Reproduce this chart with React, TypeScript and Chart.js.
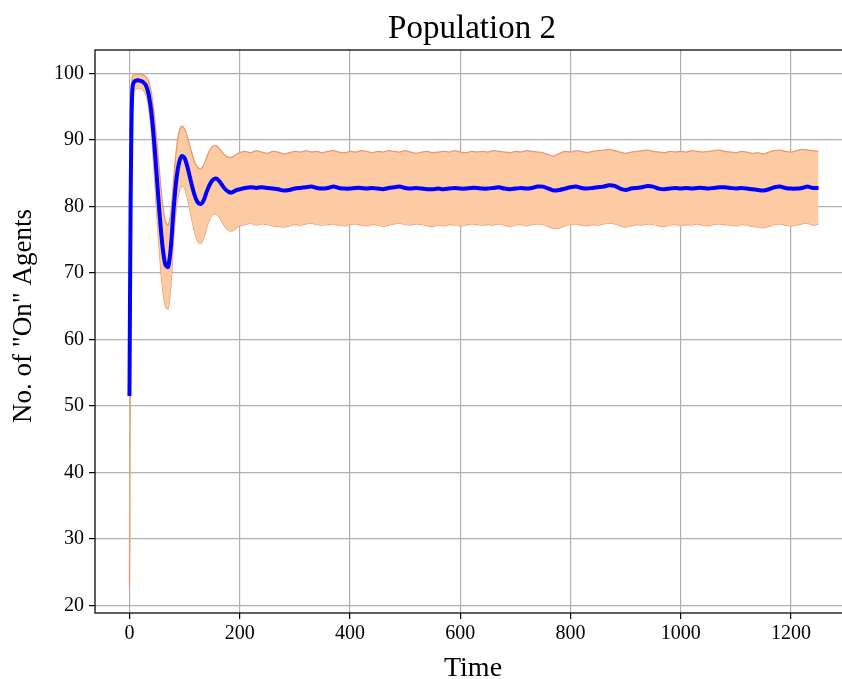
import React, { useEffect, useRef } from "react";
import { Chart, registerables } from "chart.js";

Chart.register(...registerables);

const times = [
  0, 1, 2, 3, 4, 5, 6, 8, 10, 15, 20, 25, 30, 35, 40, 45, 50, 55, 60, 65, 70, 75, 80, 85, 90, 95, 100,
  105, 110, 115, 120, 125, 130, 135, 140, 145, 150, 155, 160, 165, 170, 175, 180, 185, 190, 195, 200,
  210, 220, 230, 240, 250, 260, 270, 280, 290, 300, 310, 320, 330, 340, 350, 360, 370, 380, 390, 400,
  410, 420, 430, 440, 450, 460, 470, 480, 490, 500, 510, 520, 530, 540, 550, 560, 570, 580, 590, 600,
  610, 620, 630, 640, 650, 660, 670, 680, 690, 700, 710, 720, 730, 740, 750, 760, 770, 780, 790, 800,
  810, 820, 830, 840, 850, 860, 870, 880, 890, 900, 910, 920, 930, 940, 950, 960, 970, 980, 990, 1000,
  1010, 1020, 1030, 1040, 1050, 1060, 1070, 1080, 1090, 1100, 1110, 1120, 1130, 1140, 1150, 1160, 1170,
  1180, 1190, 1200, 1210, 1220, 1230, 1240, 1250,
];

const meanOn = [
  51.5, 66, 79, 88, 94, 97, 98.2, 98.7, 98.9, 99.0, 98.9, 98.7, 98.2, 96.8, 94.0, 89.5, 84.0, 78.5, 74.0,
  71.3, 70.9, 73.8, 79.5, 84.0, 86.6, 87.6, 87.3, 86.0, 84.3, 82.6, 81.3, 80.5, 80.4, 81.0, 82.2, 83.2,
  83.9, 84.2, 84.1, 83.6, 83.0, 82.5, 82.2, 82.1, 82.3, 82.5, 82.6,
  82.8, 82.9, 82.8, 82.9, 82.8, 82.7, 82.6, 82.4, 82.5, 82.7, 82.8, 82.9, 83.0, 82.8, 82.7, 82.8, 83.0,
  82.8, 82.7, 82.7, 82.8, 82.8, 82.7, 82.8, 82.7, 82.6, 82.8, 82.9, 83.0, 82.8, 82.7, 82.8, 82.7, 82.6,
  82.6, 82.7, 82.6, 82.7, 82.8, 82.7, 82.7, 82.8, 82.8, 82.7, 82.7, 82.8, 82.9, 82.7, 82.6, 82.7, 82.8,
  82.7, 82.8, 83.0, 83.0, 82.7, 82.4, 82.5, 82.7, 82.9, 83.0, 82.8, 82.7, 82.8, 82.9, 83.0, 83.2, 83.1,
  82.7, 82.5, 82.7, 82.8, 82.9, 83.1, 83.0, 82.7, 82.6, 82.7, 82.8, 82.7, 82.8, 82.7, 82.8, 82.8, 82.7,
  82.8, 82.9, 82.9, 82.8, 82.7, 82.8, 82.7, 82.6, 82.5, 82.4, 82.6, 82.9, 83.0, 82.8, 82.7, 82.7, 82.8,
  83.0, 82.8, 82.8,
];

const upperOn = [
  80.3, 88, 93, 96.5, 98.5, 99.4, 99.7, 99.8, 99.9, 99.9, 99.9, 99.8, 99.5, 98.8, 97.0, 93.8, 89.5, 84.8,
  80.5, 77.8, 77.2, 79.0, 84.0, 88.5, 91.2, 92.1, 91.7, 90.5, 89.0, 87.5, 86.4, 85.8, 85.7, 86.3, 87.4,
  88.4, 89.0, 89.2, 89.0, 88.5, 88.0, 87.6, 87.4, 87.4, 87.6, 87.9, 88.1,
  88.3, 88.1, 88.4, 88.2, 88.0, 88.3, 88.2, 87.9, 88.1, 88.3, 88.2, 88.4, 88.2, 88.3, 88.1, 88.3, 88.4,
  88.2, 88.1, 88.3, 88.2, 88.4, 88.3, 88.1, 88.3, 88.2, 88.4, 88.3, 88.2, 88.4, 88.2, 88.0, 88.2, 88.3,
  88.1, 88.2, 88.3, 88.2, 88.4, 88.2, 88.1, 88.3, 88.2, 88.3, 88.2, 88.4, 88.3, 88.2, 88.1, 88.3, 88.2,
  88.4, 88.3, 88.2, 88.1, 87.8, 87.6, 88.0, 88.3, 88.2, 88.4, 88.3, 88.1, 88.3, 88.4, 88.5, 88.6, 88.4,
  88.2, 88.0, 88.2, 88.3, 88.4, 88.5, 88.3, 88.2, 88.1, 88.3, 88.2, 88.3, 88.2, 88.4, 88.3, 88.2, 88.3,
  88.4, 88.5, 88.3, 88.2, 88.1, 88.3, 88.2, 88.0, 88.1, 87.9, 88.2, 88.4, 88.5, 88.3, 88.2, 88.4, 88.6,
  88.5, 88.4, 88.3,
];

const lowerOn = [
  22.7, 44, 65, 79, 89, 94, 96.5, 97.4, 97.6, 97.8, 97.8, 97.5, 96.8, 94.8, 91.0, 85.0, 78.5, 72.5, 67.8,
  65.0, 64.6, 68.0, 75.0, 79.8, 82.2, 83.1, 82.8, 81.3, 79.4, 77.3, 75.6, 74.6, 74.5, 75.3, 76.8, 78.0,
  78.7, 78.9, 78.7, 78.1, 77.4, 76.8, 76.4, 76.3, 76.5, 76.9, 77.1,
  77.3, 77.5, 77.2, 77.4, 77.3, 77.1, 77.0, 76.9, 77.1, 77.3, 77.2, 77.4, 77.5, 77.3, 77.2, 77.3, 77.4,
  77.2, 77.1, 77.3, 77.4, 77.2, 77.1, 77.3, 77.2, 77.0, 77.2, 77.4, 77.5, 77.3, 77.2, 77.4, 77.3, 77.1,
  77.0, 77.2, 77.1, 77.3, 77.2, 77.1, 77.2, 77.4, 77.3, 77.2, 77.3, 77.2, 77.4, 77.2, 77.0, 77.2, 77.3,
  77.1, 77.3, 77.4, 77.3, 77.0, 76.7, 76.8, 77.1, 77.3, 77.4, 77.2, 77.1, 77.3, 77.2, 77.4, 77.5, 77.4,
  77.1, 76.9, 77.1, 77.3, 77.2, 77.4, 77.3, 77.1, 77.0, 77.2, 77.3, 77.1, 77.3, 77.2, 77.4, 77.2, 77.1,
  77.3, 77.4, 77.3, 77.2, 77.1, 77.3, 77.2, 77.0, 76.9, 76.8, 77.0, 77.3, 77.4, 77.2, 77.1, 77.2, 77.4,
  77.5, 77.2, 77.4,
];

const xTicks = [0, 200, 400, 600, 800, 1000, 1200];
const yTicks = [20, 30, 40, 50, 60, 70, 80, 90, 100];

const titleText = "Population 2";
const xTitleText = "Time";
const yTitleText = 'No. of "On" Agents';

const FONT = "'Liberation Serif', 'Times New Roman', serif";

const framePlugin = {
  id: "frame",
  afterDraw(chart: any) {
    const { ctx, chartArea: a } = chart;
    ctx.save();
    ctx.strokeStyle = "#000";
    ctx.lineWidth = 1.25;
    ctx.strokeRect(a.left, a.top, a.right - a.left, a.bottom - a.top);

    const cx = (a.left + a.right) / 2;
    ctx.fillStyle = "#000";
    ctx.textAlign = "center";
    ctx.textBaseline = "alphabetic";

    ctx.font = `33px ${FONT}`;
    ctx.fillText(titleText, cx - 2, a.top - 12);

    ctx.font = `28px ${FONT}`;
    ctx.fillText(xTitleText, cx - 1, a.bottom + 63);

    ctx.font = `27px ${FONT}`;
    ctx.translate(31, 316);
    ctx.rotate(-Math.PI / 2);
    ctx.fillText(yTitleText, 0, 0);
    ctx.restore();
  },
};

export default function App() {
  const ref = useRef<HTMLCanvasElement | null>(null);

  useEffect(() => {
    if (!ref.current) return;
    const pts = (vals: number[]) => times.map((t, i) => ({ x: t, y: vals[i] }));
    const chart = new Chart(ref.current, {
      type: "line",
      data: {
        datasets: [
          {
            label: "mean",
            data: pts(meanOn),
            borderColor: "#0000ff",
            borderWidth: 4,
            pointRadius: 0,
            fill: false,
            tension: 0.25,
            order: 0,
          },
          {
            label: "upper",
            data: pts(upperOn),
            borderColor: "rgb(234,152,112)",
            backgroundColor: "rgb(252,202,163)",
            borderWidth: 1.3,
            pointRadius: 0,
            fill: "+1",
            tension: 0.25,
            order: 1,
          },
          {
            label: "lower",
            data: pts(lowerOn),
            borderColor: "rgb(234,152,112)",
            backgroundColor: "rgb(252,202,163)",
            borderWidth: 1.3,
            pointRadius: 0,
            fill: false,
            tension: 0.25,
            order: 2,
          },
        ],
      },
      options: {
        responsive: false,
        animation: false,
        devicePixelRatio: 1,
        layout: { padding: { top: 50, left: 0, right: 0, bottom: 0 } },
        plugins: {
          legend: { display: false },
          tooltip: { enabled: false },
          title: { display: false },
        },
        scales: {
          x: {
            type: "linear",
            min: -62.5,
            max: 1312.5,
            afterBuildTicks: (s: any) => {
              s.ticks = xTicks.map((v) => ({ value: v }));
            },
            afterFit: (s: any) => {
              s.height = 66;
            },
            grid: { color: "#b0b0b0", lineWidth: 1.2, tickColor: "#000", tickLength: 6, drawTicks: true },
            border: { display: false },
            ticks: {
              color: "#000",
              font: { family: FONT, size: 20 },
              padding: 3,
              maxRotation: 0,
              callback: (v: any) => String(v),
            },
          },
          y: {
            type: "linear",
            min: 18.85,
            max: 103.55,
            afterBuildTicks: (s: any) => {
              s.ticks = yTicks.map((v) => ({ value: v }));
            },
            afterFit: (s: any) => {
              s.width = 95;
            },
            grid: { color: "#b0b0b0", lineWidth: 1.2, tickColor: "#000", tickLength: 6, drawTicks: true },
            border: { display: false },
            ticks: {
              color: "#000",
              font: { family: FONT, size: 20 },
              padding: 5,
              callback: (v: any) => String(v),
            },
          },
        },
      },
      plugins: [framePlugin],
    });
    return () => chart.destroy();
  }, []);

  return (
    <div
      style={{
        position: "fixed",
        left: 0,
        top: 0,
        width: 842,
        height: 679,
        overflow: "hidden",
        background: "#fff",
      }}
    >
      <canvas ref={ref} width={853} height={679} style={{ display: "block" }} />
    </div>
  );
}
